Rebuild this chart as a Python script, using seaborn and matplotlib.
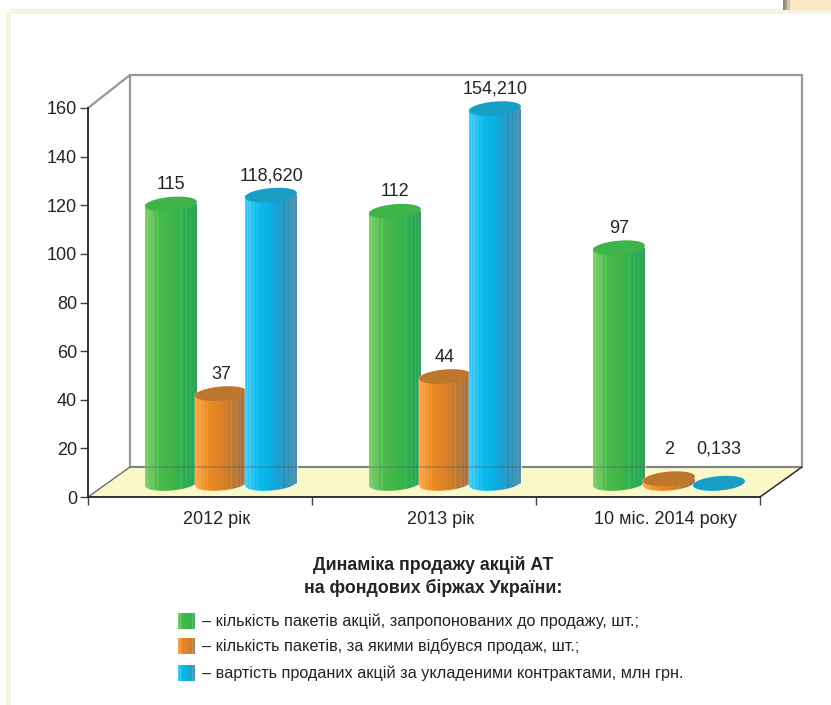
import numpy as np
import pandas as pd
import matplotlib
matplotlib.use("Agg")
import matplotlib.pyplot as plt
from matplotlib.patches import Polygon, Rectangle
from matplotlib.transforms import Affine2D
import seaborn as sns

periods = ["2012 рік", "2013 рік", "10 міс. 2014 року"]
series_names = [
    "кількість пакетів акцій, запропонованих до продажу, шт.;",
    "кількість пакетів, за якими відбувся продаж, шт.;",
    "вартість проданих акцій за укладеними контрактами, млн грн.",
]
offered = [115, 112, 97]
sold = [37, 44, 2]
value_mln = [118.620, 154.210, 0.133]
y_ticks = [0, 20, 40, 60, 80, 100, 120, 140, 160]
title_lines = ["Динаміка продажу акцій АТ", "на фондових біржах України:"]

# Shading stops across a cylinder, left to right
stops = {
    0: [(128, 203, 105), (78, 187, 78), (66, 182, 74), (44, 176, 80), (40, 160, 88)],
    1: [(252, 165, 66), (236, 140, 38), (222, 130, 38), (190, 120, 50), (150, 112, 76)],
    2: [(70, 200, 245), (14, 188, 238), (10, 176, 226), (34, 150, 196), (74, 142, 172)],
}
cap_colors = ["#3fb44a", "#bd762c", "#199ec6"]
stripe_pos = [0.05, 0.10, 0.16, 0.24, 0.70, 0.80, 0.88, 0.94]

sns.set_theme(style="white")
plt.rcParams["font.family"] = ["Liberation Sans", "DejaVu Sans"]
ink = "#242424"
PX_X, PX_Y = 224.0, 389.0 / 160.0

fig = plt.figure(figsize=(8.31, 7.05), dpi=100, facecolor="white")
ax = fig.add_axes([88 / 831, 1 - 497 / 705, 672 / 831, 389 / 705])
ax.patch.set_visible(False)
to_px = Affine2D().scale(1 / 831, -1 / 705).translate(0, 1) + fig.transFigure

# Page border and corner tab
for x, y, w, h, col in [
    (10, 9, 821, 5, "#f8f2e2"),
    (6, 12, 5, 693, "#f8f2e2"),
    (790, 0, 41, 10, "#fbe6c4"),
    (783, 0, 2, 10, "#8f8878"), (785, 0, 2, 10, "#a79f8d"),
    (787, 0, 3, 10, "#cfc5ae"),
]:
    fig.add_artist(Rectangle((x, y), w, h, transform=to_px, fc=col, ec="none", zorder=0))

frame_data = pd.DataFrame({
    "period": periods * 3,
    "series": sum([[n] * 3 for n in series_names], []),
    "value": offered + sold + value_mln,
})
sns.barplot(data=frame_data, x="period", y="value", hue="series", hue_order=series_names,
            order=periods, width=0.67, gap=0, dodge=True, legend=False, ax=ax,
            palette=["#46b64c", "#e88c2a", "#14b4e6"], saturation=1, errorbar=None)

ax.set_xlim(-0.5, 2.5)
ax.set_ylim(0, 160)
ax.autoscale(False)

# Room behind the columns: floor and back wall
ax.add_patch(Polygon([(88, 497), (130, 467), (802, 467), (760, 497)], closed=True,
                     transform=to_px, fc="#faf8c8", ec="none", zorder=0.5, clip_on=False))
wall_kw = dict(transform=to_px, color="#96979b", lw=1.6, zorder=0.6, clip_on=False)
ax.plot([88, 130, 802, 802, 130, 130], [108, 75, 75, 467, 467, 75], **wall_kw)
ax.plot([760, 802], [497, 467], transform=to_px, color="#2a2a2a", lw=1.1, zorder=0.7, clip_on=False)
ax.plot([88, 130], [497, 467], transform=to_px, color="#6f6f60", lw=1.0, zorder=0.7, clip_on=False)


def shade_strip(idx, n=260):
    """Horizontal colour ramp with the thin light facets of a cylinder."""
    c = np.array(stops[idx], float)
    t = np.linspace(0, 1, n)
    s = np.linspace(0, 1, len(c))
    rgb = np.stack([np.interp(t, s, c[:, k]) for k in range(3)], axis=1)
    for p in stripe_pos:
        i = int(p * (n - 1))
        rgb[i:i + 3] = rgb[i:i + 3] * 0.8 + 255 * 0.2
    return (rgb[None, :, :] / 255.0).clip(0, 1)


def tilted_ellipse(cx, cy, half_w, half_h=7.0, tilt_deg=5.0, start=0.0, stop=2 * np.pi):
    t = np.linspace(start, stop, 90)
    th = np.radians(tilt_deg)
    px = half_w * np.cos(t)
    py = half_h * np.sin(t)
    xr = px * np.cos(th) - py * np.sin(th)
    yr = px * np.sin(th) + py * np.cos(th)
    return np.column_stack([cx + xr / PX_X, cy + yr / PX_Y])


base_level = (497 - 483.5) / PX_Y
depth_shift = 21.0 / PX_X
cyl_w = 52.0 / PX_X
label_floor = (497 - 458) / PX_Y

z = 2.0
for g in range(3):
    for s, container in enumerate(ax.containers):
        bar = container.patches[g]
        height = bar.get_height()
        cx = bar.get_x() + bar.get_width() / 2 + depth_shift
        top = base_level + height
        bar.set_x(cx - cyl_w / 2)
        bar.set_width(cyl_w)
        bar.set_y(base_level)
        bar.set_zorder(z)
        bar.set_clip_on(False)

        # Shaded side: straight walls closed by the lower half of the base ellipse
        lower = tilted_ellipse(cx, base_level, 26, start=np.pi, stop=2 * np.pi)
        outline = np.vstack([lower, [[lower[-1, 0], top], [lower[0, 0], top]]])
        side = Polygon(outline, closed=True, transform=ax.transData)
        im = ax.imshow(shade_strip(s), extent=[cx - cyl_w / 2, cx + cyl_w / 2, base_level - 10 / PX_Y, top],
                       aspect="auto", zorder=z + 0.1, interpolation="bilinear")
        im.set_clip_path(side)

        ax.add_patch(Polygon(tilted_ellipse(cx, top, 26), closed=True, fc=cap_colors[s],
                             ec="none", zorder=z + 0.2, clip_on=False))
        txt = f"{height:g}" if s < 2 else f"{height:.3f}".replace(".", ",")
        ax.text(cx, max(top + 11 / PX_Y, label_floor), txt, ha="center", va="bottom",
                fontsize=13, color=ink, zorder=20)
        z += 1

# Back-wall line showing faintly through the columns
ax.plot([130, 802], [467, 467], transform=to_px, color="#555555", lw=1.4, alpha=0.3,
        zorder=z + 1, clip_on=False)

for name in ["top", "right"]:
    ax.spines[name].set_visible(False)
for name in ["left", "bottom"]:
    ax.spines[name].set_color("#222222")
    ax.spines[name].set_linewidth(1.3)
ax.spines["bottom"].set_zorder(z + 2)
ax.set_yticks(y_ticks)
ax.set_yticklabels([str(v) for v in y_ticks], fontsize=13, color=ink)
ax.tick_params(axis="y", left=True, length=5.5, width=1.0, color="#444444", pad=2.5)
ax.set_xticks([i + 17 / PX_X for i in range(3)])
ax.set_xticklabels(periods, fontsize=13, color=ink)
ax.set_xticks([-0.5, 0.5, 1.5, 2.5], minor=True)
ax.tick_params(axis="x", which="major", bottom=False, length=0, pad=10)
ax.tick_params(axis="x", which="minor", bottom=True, length=5.5, width=1.0, color="#444444")
ax.set_xlabel("")
ax.set_ylabel("")

# Caption below the chart
for line, y in zip(title_lines, [565, 588]):
    fig.text(433 / 831, 1 - y / 705, line, ha="center", va="center", fontsize=12.8,
             fontweight="bold", color=ink)

for s, (name, y) in enumerate(zip(series_names, [621, 646, 673])):
    swatch = fig.add_axes([178 / 831, 1 - (y + 8) / 705, 16 / 831, 16 / 705])
    swatch.imshow(shade_strip(s, 60)[:, 10:48], aspect="auto")
    swatch.axis("off")
    fig.text(202 / 831, 1 - (y + 0.5) / 705, "– " + name, ha="left", va="center",
             fontsize=11.7, color=ink)

fig.savefig("out.png", dpi=100, facecolor="white")
